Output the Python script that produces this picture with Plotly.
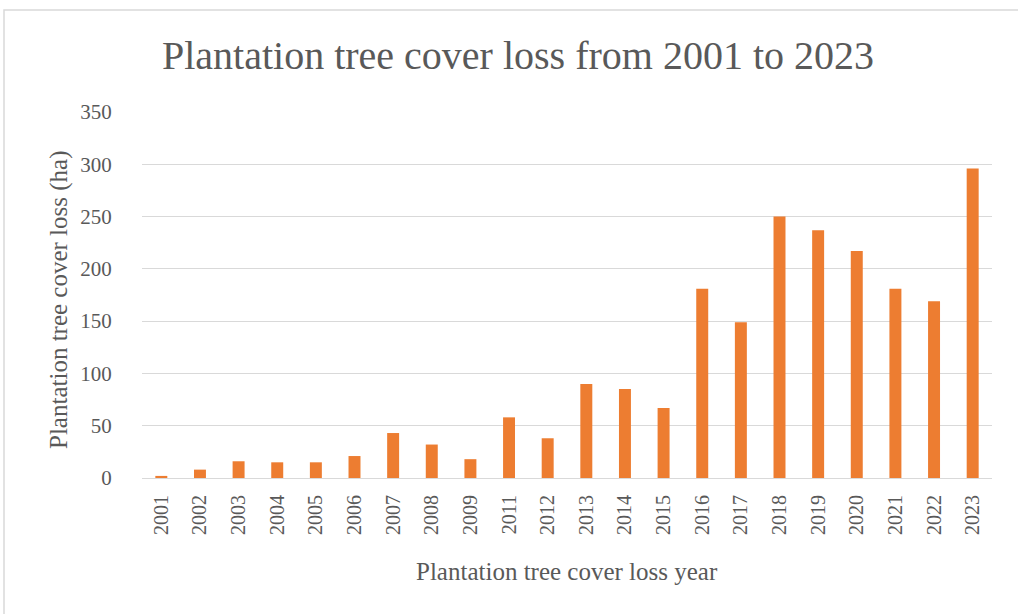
import plotly.graph_objects as go

# Plantation tree cover loss by year (2010 absent from the series)
years = ["2001", "2002", "2003", "2004", "2005", "2006", "2007", "2008", "2009",
         "2011", "2012", "2013", "2014", "2015", "2016", "2017", "2018", "2019",
         "2020", "2021", "2022", "2023"]
loss_ha = [2, 8, 16, 15, 15, 21, 43, 32, 18,
           58, 38, 90, 85, 67, 181, 149, 250, 237,
           217, 181, 169, 296]

title_text = "Plantation tree cover loss from 2001 to 2023"
x_title = "Plantation tree cover loss year"
y_title = "Plantation tree cover loss (ha)"

W, H = 1018, 614
L, R, T, B = 142, 26, 112, 136
pw, ph = W - L - R, H - T - B

serif = "Liberation Serif"
grey_text = "#595959"
grid = "#d9d9d9"

fig = go.Figure(
    go.Bar(
        x=years,
        y=loss_ha,
        marker=dict(color="#ED7D31", line=dict(width=0)),
        width=0.31,
    )
)

fig.update_layout(
    width=W,
    height=H,
    margin=dict(l=L, r=R, t=T, b=B, pad=0),
    paper_bgcolor="white",
    plot_bgcolor="white",
    showlegend=False,
    font=dict(family=serif, color=grey_text),
    title=dict(
        text=title_text,
        font=dict(family=serif, size=40, color=grey_text),
        x=518 / W,
        xref="container",
        xanchor="center",
        y=1 - 55 / H,
        yref="container",
        yanchor="middle",
    ),
)

fig.update_xaxes(
    type="category",
    tickangle=-90,
    tickfont=dict(family=serif, size=20, color=grey_text),
    ticks="outside",
    ticklen=8,
    tickcolor="rgba(0,0,0,0)",
    showgrid=False,
    showline=True,
    linecolor=grid,
    linewidth=1,
)

fig.update_yaxes(
    range=[0, 350],
    tickvals=[0, 50, 100, 150, 200, 250, 300, 350],
    tickfont=dict(family=serif, size=21, color=grey_text),
    ticks="outside",
    ticklen=25,
    tickcolor="rgba(0,0,0,0)",
    showgrid=True,
    gridcolor=grid,
    gridwidth=1,
    zeroline=False,
    showline=False,
)

# axis titles placed as annotations
fig.add_annotation(
    text=y_title,
    textangle=-90,
    xref="paper", yref="paper",
    x=(59 - L) / pw, y=((T + ph) - 300) / ph,
    xanchor="center", yanchor="middle",
    showarrow=False,
    font=dict(family=serif, size=25, color=grey_text),
)
fig.add_annotation(
    text=x_title,
    xref="paper", yref="paper",
    x=0.5, y=-(571 - (T + ph)) / ph,
    xanchor="center", yanchor="middle",
    showarrow=False,
    font=dict(family=serif, size=25, color=grey_text),
)

# chart frame
fig.add_shape(
    type="rect",
    xref="paper", yref="paper",
    x0=(4 - L) / pw, x1=(1040 - L) / pw,
    y0=-(660 - (T + ph)) / ph, y1=((T + ph) - 10) / ph,
    line=dict(color="#d9d9d9", width=1.5),
    fillcolor="rgba(0,0,0,0)",
    layer="below",
)

fig.write_html("out.html")
